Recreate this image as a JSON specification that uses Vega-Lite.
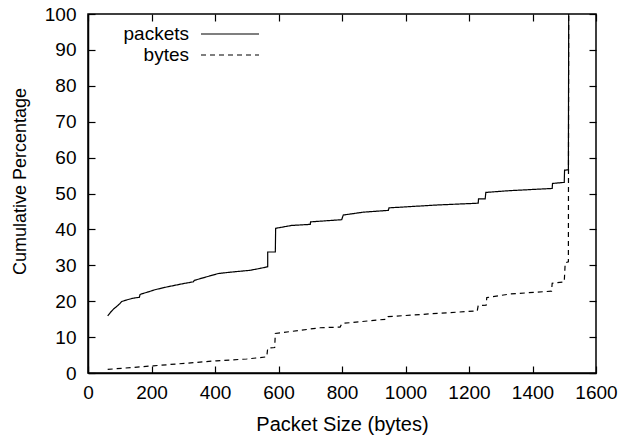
{
  "$schema": "https://vega.github.io/schema/vega-lite/v6.json",
  "autosize": "none",
  "width": 508,
  "height": 359,
  "padding": {"left": 88, "top": 14, "right": 25, "bottom": 69},
  "background": "white",
  "config": {
    "font": "Liberation Sans",
    "view": {"stroke": "black", "strokeWidth": 1.5},
    "axis": {"grid": false, "domainColor": "black", "domainWidth": 1.5, "tickColor": "black", "tickWidth": 1.2, "labelColor": "black", "titleColor": "black", "labelFont": "Liberation Sans", "titleFont": "Liberation Sans", "labelFontSize": 19, "titleFontSize": 20, "titleFontWeight": "normal"},
    "legend": {"labelFont": "Liberation Sans", "labelFontSize": 19, "labelColor": "black"}
  },
  "data": {"values": [
    {"s":"packets","i":0,"x":62,"y":15.9},{"s":"packets","i":1,"x":70,"y":16.8},{"s":"packets","i":2,"x":80,"y":17.8},{"s":"packets","i":3,"x":90,"y":18.5},{"s":"packets","i":4,"x":100,"y":19.3},{"s":"packets","i":5,"x":106,"y":19.9},{"s":"packets","i":6,"x":120,"y":20.3},{"s":"packets","i":7,"x":140,"y":20.8},{"s":"packets","i":8,"x":162,"y":21.1},{"s":"packets","i":9,"x":164,"y":21.9},{"s":"packets","i":10,"x":190,"y":22.6},{"s":"packets","i":11,"x":211,"y":23.2},{"s":"packets","i":12,"x":250,"y":24.0},{"s":"packets","i":13,"x":300,"y":24.9},{"s":"packets","i":14,"x":332,"y":25.4},{"s":"packets","i":15,"x":335,"y":25.8},{"s":"packets","i":16,"x":370,"y":26.7},{"s":"packets","i":17,"x":410,"y":27.7},{"s":"packets","i":18,"x":450,"y":28.1},{"s":"packets","i":19,"x":510,"y":28.6},{"s":"packets","i":20,"x":540,"y":29.1},{"s":"packets","i":21,"x":566,"y":29.6},{"s":"packets","i":22,"x":566,"y":33.7},{"s":"packets","i":23,"x":590,"y":33.7},{"s":"packets","i":24,"x":591,"y":40.3},{"s":"packets","i":25,"x":641,"y":41.1},{"s":"packets","i":26,"x":700,"y":41.4},{"s":"packets","i":27,"x":701,"y":42.1},{"s":"packets","i":28,"x":799,"y":42.7},{"s":"packets","i":29,"x":804,"y":44.0},{"s":"packets","i":30,"x":867,"y":44.8},{"s":"packets","i":31,"x":946,"y":45.3},{"s":"packets","i":32,"x":948,"y":46.0},{"s":"packets","i":33,"x":1100,"y":46.8},{"s":"packets","i":34,"x":1229,"y":47.3},{"s":"packets","i":35,"x":1230,"y":48.5},{"s":"packets","i":36,"x":1251,"y":48.5},{"s":"packets","i":37,"x":1253,"y":50.3},{"s":"packets","i":38,"x":1329,"y":50.8},{"s":"packets","i":39,"x":1462,"y":51.4},{"s":"packets","i":40,"x":1463,"y":52.8},{"s":"packets","i":41,"x":1500,"y":53.1},{"s":"packets","i":42,"x":1501,"y":56.5},{"s":"packets","i":43,"x":1513,"y":56.6},{"s":"packets","i":44,"x":1514,"y":100},
    {"s":"bytes","i":0,"x":62,"y":1.0},{"s":"bytes","i":1,"x":206,"y":2.0},{"s":"bytes","i":2,"x":405,"y":3.4},{"s":"bytes","i":3,"x":500,"y":3.9},{"s":"bytes","i":4,"x":563,"y":4.5},{"s":"bytes","i":5,"x":566,"y":6.9},{"s":"bytes","i":6,"x":588,"y":7.1},{"s":"bytes","i":7,"x":590,"y":11.0},{"s":"bytes","i":8,"x":731,"y":12.6},{"s":"bytes","i":9,"x":794,"y":12.8},{"s":"bytes","i":10,"x":800,"y":13.8},{"s":"bytes","i":11,"x":941,"y":15.0},{"s":"bytes","i":12,"x":945,"y":15.7},{"s":"bytes","i":13,"x":1100,"y":16.6},{"s":"bytes","i":14,"x":1226,"y":17.3},{"s":"bytes","i":15,"x":1229,"y":18.8},{"s":"bytes","i":16,"x":1254,"y":18.9},{"s":"bytes","i":17,"x":1256,"y":21.0},{"s":"bytes","i":18,"x":1329,"y":22.0},{"s":"bytes","i":19,"x":1460,"y":22.8},{"s":"bytes","i":20,"x":1462,"y":25.0},{"s":"bytes","i":21,"x":1500,"y":25.4},{"s":"bytes","i":22,"x":1503,"y":30.7},{"s":"bytes","i":23,"x":1513,"y":31.0},{"s":"bytes","i":24,"x":1514,"y":100}
  ]},
  "layer": [
    {
      "mark": {"type": "line", "color": "black", "strokeWidth": 1.2},
      "encoding": {
        "x": {"field": "x", "type": "quantitative", "scale": {"domain": [0, 1600], "nice": false}, "axis": {"orient": "bottom", "title": "Packet Size (bytes)", "format": "d", "values": [0,200,400,600,800,1000,1200,1400,1600], "tickSize": -7, "labelPadding": 17, "titlePadding": 12, "labelFlush": false, "labelOverlap": false}},
        "y": {"field": "y", "type": "quantitative", "scale": {"domain": [0, 100], "nice": false}, "axis": {"orient": "left", "title": "Cumulative Percentage", "titleFontSize": 18, "titleY": 167, "format": "d", "values": [0,10,20,30,40,50,60,70,80,90,100], "tickSize": -7, "labelPadding": 19, "titlePadding": 15, "labelFlush": false, "labelOverlap": false}},
        "order": {"field": "i", "type": "quantitative"},
        "detail": {"field": "s"},
        "strokeDash": {"field": "s", "type": "nominal", "scale": {"domain": ["packets", "bytes"], "range": [[1, 0], [5, 4]]}, "legend": {"title": null, "orient": "none", "legendX": 131, "legendY": 9, "symbolType": "M-2.9,0H2.9", "symbolSize": 400, "symbolStrokeColor": "black", "symbolStrokeWidth": 1.2, "labelAlign": "right", "labelOffset": -52, "rowPadding": 0, "padding": 0}}
      }
    },
    {
      "mark": {"type": "line", "opacity": 0},
      "encoding": {
        "x": {"field": "x", "type": "quantitative", "axis": {"orient": "top", "title": null, "labels": false, "domain": false, "values": [0,200,400,600,800,1000,1200,1400,1600], "tickSize": -7}},
        "y": {"field": "y", "type": "quantitative", "axis": {"orient": "right", "title": null, "labels": false, "domain": false, "values": [0,10,20,30,40,50,60,70,80,90,100], "tickSize": -7}},
        "order": {"field": "i", "type": "quantitative"},
        "detail": {"field": "s"}
      }
    }
  ],
  "resolve": {"axis": {"x": "independent", "y": "independent"}}
}
